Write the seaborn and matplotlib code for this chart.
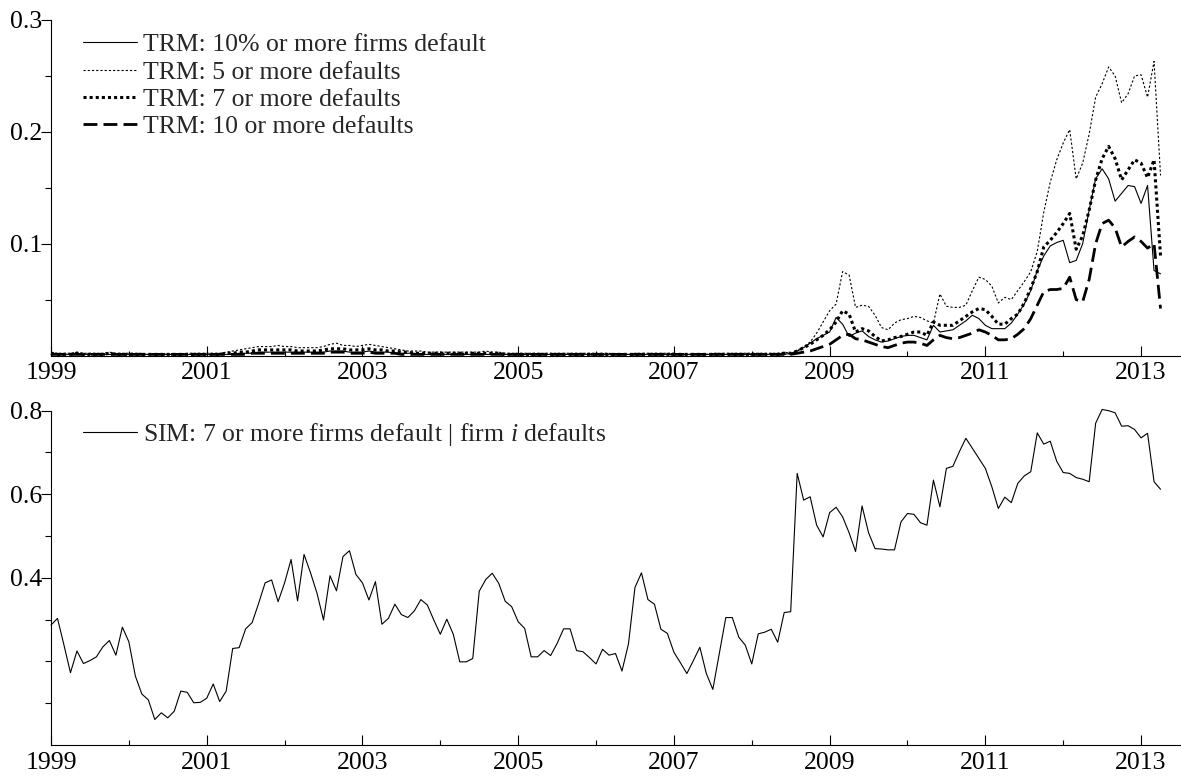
import numpy as np
import pandas as pd
import matplotlib
matplotlib.use("Agg")
import matplotlib.pyplot as plt
import seaborn as sns

sns.set_theme(style="ticks")
plt.rcParams["font.family"] = ["Liberation Serif", "DejaVu Serif"]
plt.rcParams["mathtext.fontset"] = "custom"
plt.rcParams["mathtext.rm"] = "Liberation Serif"
plt.rcParams["mathtext.it"] = "Liberation Serif:italic"

# Monthly observations, January 1999 to April 2013
months = pd.date_range("1999-01-01", periods=172, freq="MS")
t = months.year + (months.month - 1) / 12.0

# TRM: probability that 10% or more of the firms default
trm_10pct = [
    0.001, 0.001, 0.001, 0.001, 0.001, 0.001, 0.001, 0.001, 0.001, 0.001, 0.001, 0.001,
    0.001, 0.001, 0.001, 0.001, 0.001, 0.001, 0.001, 0.001, 0.001, 0.001, 0.001, 0.001,
    0.001, 0.001, 0.001, 0.001, 0.001, 0.002, 0.002, 0.002, 0.003, 0.003, 0.003, 0.003,
    0.003, 0.003, 0.003, 0.003, 0.003, 0.003, 0.003, 0.004, 0.004, 0.004, 0.003, 0.003,
    0.003, 0.004, 0.003, 0.003, 0.003, 0.002, 0.002, 0.002, 0.002, 0.001, 0.001, 0.001,
    0.001, 0.001, 0.001, 0.001, 0.001, 0.001, 0.001, 0.001, 0.001, 0.001, 0.001, 0.001,
    0.001, 0.001, 0.001, 0.001, 0.001, 0.001, 0.001, 0.001, 0.001, 0.001, 0.001, 0.001,
    0.001, 0.001, 0.001, 0.001, 0.001, 0.001, 0.001, 0.001, 0.001, 0.001, 0.001, 0.001,
    0.001, 0.001, 0.001, 0.001, 0.001, 0.001, 0.001, 0.001, 0.001, 0.001, 0.001, 0.001,
    0.001, 0.001, 0.001, 0.001, 0.001, 0.001, 0.002, 0.004, 0.007, 0.011, 0.015, 0.018,
    0.021, 0.034, 0.028, 0.017, 0.020, 0.022, 0.017, 0.014, 0.012, 0.013, 0.015, 0.017,
    0.018, 0.018, 0.016, 0.014, 0.027, 0.021, 0.022, 0.023, 0.027, 0.031, 0.036, 0.033,
    0.027, 0.024, 0.024, 0.024, 0.029, 0.037, 0.046, 0.058, 0.076, 0.089, 0.098, 0.101,
    0.103, 0.083, 0.085, 0.100, 0.130, 0.158, 0.167, 0.158, 0.138, 0.145, 0.152, 0.151,
    0.136, 0.152, 0.076, 0.073,
]

# TRM: probability of 5 or more defaults
trm_5 = [
    0.003, 0.002, 0.002, 0.002, 0.003, 0.002, 0.002, 0.002, 0.002, 0.003, 0.002, 0.002,
    0.002, 0.002, 0.002, 0.001, 0.001, 0.001, 0.001, 0.001, 0.001, 0.002, 0.002, 0.002,
    0.002, 0.002, 0.002, 0.003, 0.004, 0.005, 0.006, 0.007, 0.008, 0.008, 0.008, 0.009,
    0.008, 0.008, 0.007, 0.007, 0.007, 0.007, 0.008, 0.010, 0.011, 0.009, 0.009, 0.008,
    0.009, 0.010, 0.009, 0.008, 0.007, 0.006, 0.005, 0.004, 0.004, 0.004, 0.003, 0.003,
    0.003, 0.003, 0.003, 0.003, 0.003, 0.003, 0.003, 0.004, 0.003, 0.003, 0.002, 0.002,
    0.002, 0.002, 0.002, 0.002, 0.002, 0.002, 0.002, 0.002, 0.002, 0.002, 0.002, 0.002,
    0.002, 0.002, 0.002, 0.001, 0.001, 0.001, 0.002, 0.002, 0.002, 0.002, 0.002, 0.002,
    0.002, 0.001, 0.001, 0.001, 0.001, 0.001, 0.002, 0.002, 0.002, 0.002, 0.002, 0.002,
    0.002, 0.002, 0.002, 0.002, 0.002, 0.003, 0.002, 0.004, 0.008, 0.012, 0.020, 0.030,
    0.040, 0.046, 0.075, 0.072, 0.043, 0.045, 0.044, 0.036, 0.025, 0.023, 0.029, 0.032,
    0.033, 0.035, 0.034, 0.031, 0.029, 0.055, 0.044, 0.043, 0.043, 0.045, 0.058, 0.070,
    0.068, 0.062, 0.047, 0.052, 0.050, 0.058, 0.066, 0.075, 0.093, 0.128, 0.155, 0.175,
    0.190, 0.202, 0.158, 0.172, 0.198, 0.231, 0.243, 0.258, 0.250, 0.226, 0.234, 0.250,
    0.251, 0.231, 0.263, 0.161,
]

# TRM: probability of 7 or more defaults
trm_7 = [
    0.002, 0.001, 0.001, 0.001, 0.002, 0.001, 0.001, 0.001, 0.001, 0.002, 0.001, 0.001,
    0.001, 0.001, 0.001, 0.001, 0.001, 0.001, 0.001, 0.001, 0.001, 0.001, 0.001, 0.001,
    0.001, 0.001, 0.001, 0.002, 0.002, 0.003, 0.003, 0.004, 0.005, 0.005, 0.005, 0.005,
    0.005, 0.005, 0.004, 0.004, 0.004, 0.004, 0.005, 0.006, 0.006, 0.006, 0.005, 0.005,
    0.005, 0.006, 0.005, 0.005, 0.004, 0.004, 0.003, 0.003, 0.002, 0.002, 0.002, 0.002,
    0.002, 0.002, 0.002, 0.002, 0.002, 0.002, 0.002, 0.002, 0.002, 0.002, 0.001, 0.001,
    0.001, 0.001, 0.001, 0.001, 0.001, 0.001, 0.001, 0.001, 0.001, 0.001, 0.001, 0.001,
    0.001, 0.001, 0.001, 0.001, 0.001, 0.001, 0.001, 0.001, 0.001, 0.001, 0.001, 0.001,
    0.001, 0.001, 0.001, 0.001, 0.001, 0.001, 0.001, 0.001, 0.001, 0.001, 0.001, 0.001,
    0.001, 0.001, 0.001, 0.001, 0.001, 0.002, 0.002, 0.004, 0.007, 0.010, 0.014, 0.018,
    0.023, 0.030, 0.040, 0.037, 0.021, 0.024, 0.022, 0.017, 0.013, 0.014, 0.016, 0.017,
    0.019, 0.021, 0.021, 0.018, 0.030, 0.027, 0.027, 0.027, 0.031, 0.035, 0.039, 0.042,
    0.041, 0.035, 0.028, 0.028, 0.033, 0.037, 0.047, 0.060, 0.075, 0.097, 0.103, 0.110,
    0.118, 0.127, 0.095, 0.107, 0.130, 0.157, 0.176, 0.187, 0.176, 0.157, 0.166, 0.175,
    0.172, 0.159, 0.175, 0.089,
]

# TRM: probability of 10 or more defaults
trm_10 = [
    0.001, 0.001, 0.001, 0.001, 0.001, 0.001, 0.001, 0.001, 0.001, 0.001, 0.001, 0.001,
    0.001, 0.001, 0.001, 0.001, 0.001, 0.001, 0.001, 0.001, 0.001, 0.001, 0.001, 0.001,
    0.001, 0.001, 0.001, 0.001, 0.001, 0.001, 0.001, 0.002, 0.002, 0.002, 0.002, 0.002,
    0.002, 0.002, 0.002, 0.002, 0.002, 0.002, 0.002, 0.003, 0.003, 0.003, 0.002, 0.002,
    0.002, 0.003, 0.002, 0.002, 0.002, 0.002, 0.001, 0.001, 0.001, 0.001, 0.001, 0.001,
    0.001, 0.001, 0.001, 0.001, 0.001, 0.001, 0.001, 0.001, 0.001, 0.001, 0.001, 0.001,
    0.001, 0.001, 0.001, 0.001, 0.001, 0.001, 0.001, 0.001, 0.001, 0.001, 0.001, 0.001,
    0.001, 0.001, 0.001, 0.001, 0.001, 0.001, 0.001, 0.001, 0.001, 0.001, 0.001, 0.001,
    0.001, 0.001, 0.001, 0.001, 0.001, 0.001, 0.001, 0.001, 0.001, 0.001, 0.001, 0.001,
    0.001, 0.001, 0.001, 0.001, 0.001, 0.001, 0.001, 0.002, 0.003, 0.004, 0.006, 0.008,
    0.010, 0.014, 0.018, 0.019, 0.015, 0.014, 0.012, 0.010, 0.008, 0.007, 0.009, 0.011,
    0.012, 0.012, 0.011, 0.009, 0.014, 0.018, 0.016, 0.015, 0.016, 0.018, 0.020, 0.023,
    0.021, 0.018, 0.014, 0.014, 0.015, 0.019, 0.024, 0.033, 0.045, 0.057, 0.059, 0.059,
    0.060, 0.070, 0.050, 0.048, 0.068, 0.100, 0.118, 0.121, 0.114, 0.097, 0.102, 0.106,
    0.102, 0.096, 0.100, 0.042,
]

# SIM: probability that 7 or more firms default given that firm i defaults
sim_7 = [
    0.287, 0.303, 0.239, 0.173, 0.225, 0.195, 0.202, 0.211, 0.235, 0.250, 0.215, 0.282,
    0.247, 0.165, 0.122, 0.108, 0.061, 0.077, 0.065, 0.081, 0.129, 0.126, 0.101, 0.102,
    0.112, 0.146, 0.104, 0.129, 0.231, 0.233, 0.278, 0.293, 0.339, 0.388, 0.395, 0.343,
    0.388, 0.444, 0.345, 0.456, 0.412, 0.363, 0.299, 0.405, 0.369, 0.451, 0.465, 0.408,
    0.388, 0.347, 0.391, 0.289, 0.303, 0.337, 0.312, 0.305, 0.321, 0.348, 0.335, 0.299,
    0.265, 0.301, 0.265, 0.199, 0.199, 0.207, 0.368, 0.396, 0.411, 0.387, 0.344, 0.331,
    0.295, 0.279, 0.211, 0.211, 0.226, 0.214, 0.243, 0.278, 0.278, 0.226, 0.223, 0.209,
    0.194, 0.229, 0.215, 0.219, 0.177, 0.242, 0.377, 0.412, 0.348, 0.337, 0.277, 0.267,
    0.222, 0.197, 0.171, 0.202, 0.234, 0.171, 0.133, 0.219, 0.305, 0.305, 0.258, 0.239,
    0.194, 0.266, 0.270, 0.277, 0.246, 0.317, 0.319, 0.650, 0.586, 0.594, 0.526, 0.498,
    0.556, 0.569, 0.546, 0.508, 0.463, 0.572, 0.508, 0.470, 0.469, 0.467, 0.467, 0.534,
    0.554, 0.552, 0.532, 0.526, 0.634, 0.570, 0.662, 0.667, 0.702, 0.734, 0.710, 0.686,
    0.662, 0.618, 0.566, 0.593, 0.580, 0.626, 0.644, 0.654, 0.747, 0.720, 0.727, 0.679,
    0.652, 0.650, 0.640, 0.636, 0.630, 0.770, 0.803, 0.800, 0.795, 0.763, 0.764, 0.755,
    0.735, 0.746, 0.630, 0.612,
]

top_labels = [
    "TRM: 10% or more firms default",
    "TRM: 5 or more defaults",
    "TRM: 7 or more defaults",
    "TRM: 10 or more defaults",
]
bottom_label = r"SIM: 7 or more firms default | firm $\mathit{i}$ defaults"

year_major = [1999, 2001, 2003, 2005, 2007, 2009, 2011, 2013]
year_minor = [2000, 2002, 2004, 2006, 2008, 2010, 2012]

W, H = 1181, 782
fig = plt.figure(figsize=(W / 100, H / 100), dpi=100)
fig.patch.set_facecolor("white")
ax1 = fig.add_axes([51 / W, 1 - 355.5 / H, 1129 / W, 335.5 / H])
ax2 = fig.add_axes([51 / W, 1 - 745 / H, 1129 / W, 334.3 / H])

styles = [
    dict(lw=0.8, linestyle="-"),
    dict(lw=0.8, linestyle=(0, (2.0, 1.8))),
    dict(lw=2.2, linestyle=(0, (1.0, 1.0))),
    dict(lw=2.0, linestyle=(0, (5.0, 2.2))),
]
for vals, lab, st in zip([trm_10pct, trm_5, trm_7, trm_10], top_labels, styles):
    sns.lineplot(x=t, y=vals, ax=ax1, color="black", label=lab, clip_on=False, **st)

sns.lineplot(x=t, y=sim_7, ax=ax2, color="black", lw=0.8, label=bottom_label,
             clip_on=False)

FS = 18.5
for ax in (ax1, ax2):
    ax.set_facecolor("white")
    ax.set_xlim(1999, 2013.5)
    ax.set_xticks(year_major)
    ax.set_xticks(year_minor, minor=True)
    ax.set_xticklabels([str(y) for y in year_major])
    for s in ("top", "right"):
        ax.spines[s].set_visible(False)
    for s in ("left", "bottom"):
        ax.spines[s].set_color("black")
        ax.spines[s].set_linewidth(0.8)
    ax.tick_params(axis="x", which="major", direction="in", length=7, width=0.8,
                   colors="black", labelsize=FS, pad=5, bottom=True, top=False)
    ax.tick_params(axis="x", which="minor", direction="in", length=3.5, width=0.8,
                   colors="black", bottom=True, top=False)
    ax.tick_params(axis="y", which="major", direction="out", length=7, width=0.8,
                   colors="black", labelsize=FS, pad=-1, left=True, right=False)
    ax.tick_params(axis="y", which="minor", direction="out", length=4, width=0.8,
                   colors="black", left=True, right=False)
    ax.set_xlabel("")
    ax.set_ylabel("")

ax1.set_ylim(0, 0.3)
ax1.set_yticks([0.1, 0.2, 0.3])
ax1.set_yticklabels(["0.1", "0.2", "0.3"])
ax1.set_yticks([0.05, 0.15, 0.25], minor=True)

ax2.set_ylim(0, 0.8)
ax2.set_yticks([0.4, 0.6, 0.8])
ax2.set_yticklabels(["0.4", "0.6", "0.8"])
ax2.set_yticks([0.1, 0.2, 0.3, 0.5, 0.7], minor=True)

leg_kw = dict(loc="upper left", frameon=False, fontsize=FS, handlelength=2.1,
              handletextpad=0.25, labelspacing=0.17, borderpad=0, borderaxespad=0)
ax1.legend(bbox_to_anchor=(0.0283, 0.96), **leg_kw)
ax2.legend(bbox_to_anchor=(0.0283, 0.969), **leg_kw)

fig.savefig("out.png", dpi=100, facecolor="white")
